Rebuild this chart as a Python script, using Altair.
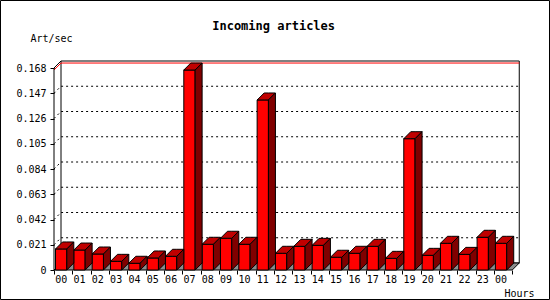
import pandas as pd
import altair as alt

# ---- data ----
hours = ["00", "01", "02", "03", "04", "05", "06", "07", "08", "09", "10", "11",
         "12", "13", "14", "15", "16", "17", "18", "19", "20", "21", "22", "23", "00"]
rates = [0.0175, 0.0166, 0.0133, 0.0072, 0.0056, 0.0100, 0.0114, 0.1663, 0.0214,
         0.0264, 0.0214, 0.1414, 0.0139, 0.0197, 0.0205, 0.0106, 0.0139, 0.0197,
         0.0097, 0.1092, 0.0122, 0.0222, 0.0130, 0.0272, 0.0222]
y_ticks = [0, 0.021, 0.042, 0.063, 0.084, 0.105, 0.126, 0.147, 0.168]
title_text = "Incoming articles"
y_title = "Art/sec"
x_title = "Hours"

# ---- layout constants (pixels) ----
CAT_PX = 18.33      # width of one hour slot
DEPTH_PX = 7        # 3D depth offset
FRONT_H = 202       # front plane height for y range
BAR_OFF_PX = 1.5
BAR_W_PX = 11.3

N = len(hours)
YMAX = y_ticks[-1]
DXu = DEPTH_PX / CAT_PX
DYu = DEPTH_PX * YMAX / FRONT_H
OFF = BAR_OFF_PX / CAT_PX
BW = BAR_W_PX / CAT_PX
W = N * CAT_PX + DEPTH_PX
H = FRONT_H + DEPTH_PX

FONT = "DejaVu Sans Mono"

xs = alt.Scale(domain=[0, N + DXu], nice=False, zero=False)
ys = alt.Scale(domain=[0, YMAX + DYu], nice=False, zero=False)

XAX = alt.Axis(values=list(range(N + 1)), labels=False,
               domain=False, grid=False, tickSize=4, tickColor="black",
               title=x_title, titleX=450, titleY=26, titleAlign="left",
               titleBaseline="alphabetic", titleFont=FONT, titleFontSize=10,
               titleFontWeight="normal", titleColor="black")
YAX = alt.Axis(values=y_ticks,
               labelExpr="datum.value == 0 ? '0' : format(datum.value, '.3f')",
               domain=False, grid=False, tickSize=4, tickColor="black",
               labelFont=FONT, labelFontSize=10, labelColor="black",
               labelPadding=4, labelFlush=False, labelOverlap=False,
               title=y_title, titleAngle=0, titleAlign="left",
               titleBaseline="alphabetic", titleX=-24, titleY=-20,
               titleFont=FONT, titleFontSize=10, titleFontWeight="normal",
               titleColor="black")


def X(f):
    return alt.X(f, type="quantitative", scale=xs, axis=XAX)


def Y(f):
    return alt.Y(f, type="quantitative", scale=ys, axis=YAX)


# back wall
wall = pd.DataFrame({"x": [DXu], "x2": [N + DXu], "y": [DYu], "y2": [YMAX + DYu]})
back = alt.Chart(wall).mark_rect(fill="white", stroke="black", strokeWidth=1).encode(
    x=X("x"), x2="x2", y=Y("y"), y2="y2")

# grid polylines (front -> back -> across)
def polyline_rows(levels):
    rows = []
    for k, v in enumerate(levels):
        for o, (px, py) in enumerate([(0, v), (DXu, v + DYu), (N + DXu, v + DYu)]):
            rows.append({"g": k, "o": o, "x": px, "y": py})
    return pd.DataFrame(rows)

grid_df = polyline_rows(y_ticks[1:-1])
grid = alt.Chart(grid_df).mark_line(color="black", strokeWidth=1, strokeDash=[2, 3]).encode(
    x=X("x"), y=Y("y"), detail="g:N", order="o:Q")

max_df = polyline_rows([max(rates)])
maxline = alt.Chart(max_df).mark_line(color="#ff0000", strokeWidth=1).encode(
    x=X("x"), y=Y("y"), detail="g:N", order="o:Q")

# floor
floor_df = pd.DataFrame({"x": [0, DXu, N, N + DXu],
                         "lo": [0, 0, 0, DYu],
                         "hi": [0, DYu, DYu, DYu]})
floor = alt.Chart(floor_df).mark_area(fill="#8c8c8c", stroke="black", strokeWidth=1).encode(
    x=X("x"), y=Y("hi"), y2="lo")

# left wall edges
lw_df = pd.DataFrame({"o": [0, 1, 2], "x": [0, 0, DXu], "y": [0, YMAX, YMAX + DYu]})
leftwall = alt.Chart(lw_df).mark_line(color="black", strokeWidth=1).encode(
    x=X("x"), y=Y("y"), order="o:Q")

# bars
front_rows, top_rows, side_rows = [], [], []
for i, v in enumerate(rates):
    xl = i + OFF
    xr = xl + BW
    front_rows.append({"id": i, "hour": hours[i], "x": xl, "x2": xr,
                       "xc": xl + BW / 2, "y": 0, "y2": v})
    for px, lo, hi in [(xl, v, v), (xl + DXu, v, v + DYu), (xr, v, v + DYu),
                       (xr + DXu, v + DYu, v + DYu)]:
        top_rows.append({"id": i, "x": px, "lo": lo, "hi": hi})
    for px, lo, hi in [(xr, 0, v), (xr + DXu, DYu, v + DYu)]:
        side_rows.append({"id": i, "x": px, "lo": lo, "hi": hi})

front_df = pd.DataFrame(front_rows)
fronts = alt.Chart(front_df).mark_rect(
    fill="#ff0000", stroke="black", strokeWidth=1).encode(
    x=X("x"), x2="x2", y=Y("y"), y2="y2")
tops = alt.Chart(pd.DataFrame(top_rows)).mark_area(
    fill="#c00000", stroke="black", strokeWidth=1, fillOpacity=1).encode(
    x=X("x"), y=Y("hi"), y2="lo", detail="id:N")
sides = alt.Chart(pd.DataFrame(side_rows)).mark_area(
    fill="#800000", stroke="black", strokeWidth=1, fillOpacity=1).encode(
    x=X("x"), y=Y("hi"), y2="lo", detail="id:N")

# hour labels under each bar
hour_labels = alt.Chart(front_df).mark_text(
    font=FONT, fontSize=10, color="black", baseline="alphabetic", align="center").encode(
    x=X("xc"), y=alt.value(H + 13), text="hour:N")

# outer frame of the image
frame = alt.Chart(pd.DataFrame({"k": [0]})).mark_rect(
    fill=None, stroke="black", strokeWidth=1).encode(
    x=alt.value(-54 + 0.5), x2=alt.value(550 - 54 - 0.5),
    y=alt.value(-61 + 0.5), y2=alt.value(300 - 61 - 0.5))

chart = alt.layer(back, grid, maxline, floor, leftwall, fronts, tops, sides,
                  hour_labels, frame).properties(
    width=W, height=H,
    title=alt.TitleParams(text=title_text, font=FONT, fontSize=12, fontWeight="bold",
                          anchor="middle", frame="group", dx=-13, dy=42, offset=0,
                          baseline="alphabetic", color="black"),
    autosize=alt.AutoSizeParams(type="none"),
    padding={"left": 54, "top": 61, "right": 550 - 54 - W, "bottom": 30},
).configure(background="white").configure_view(stroke=None)

chart.save("out.html", embed_options={"renderer": "svg", "actions": False})
